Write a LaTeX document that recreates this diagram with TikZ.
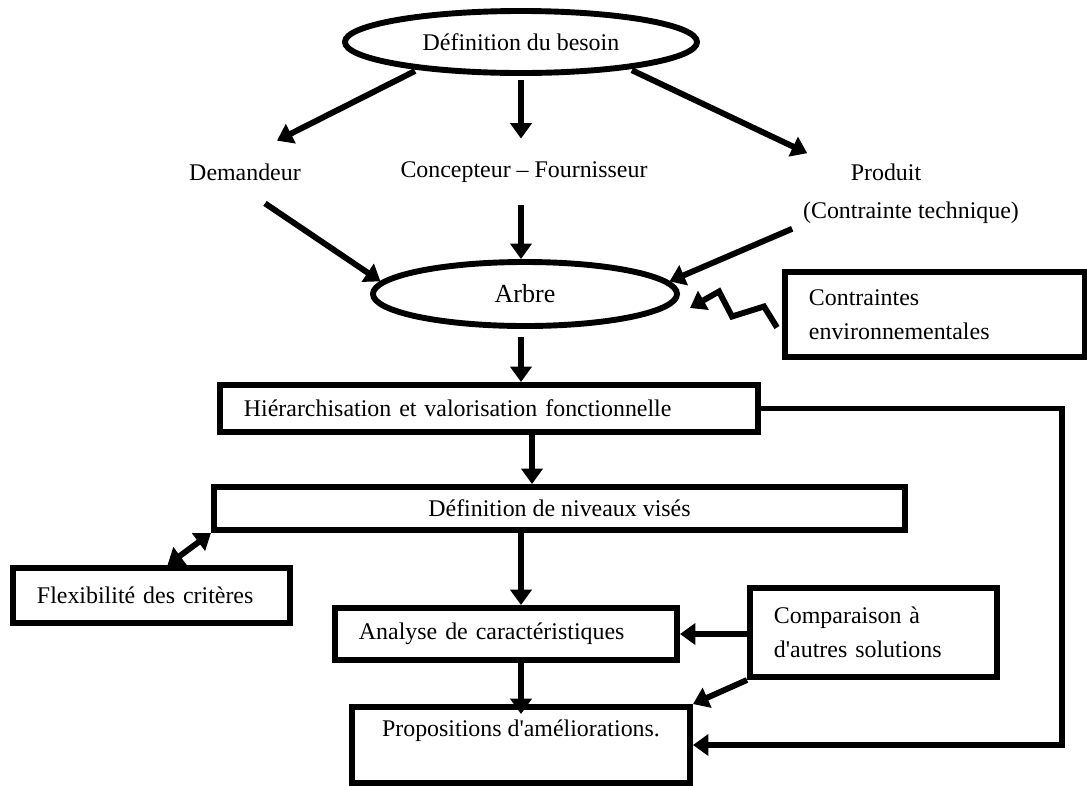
\documentclass[tikz,border=0pt]{standalone}
\usepackage{fontspec}
\setmainfont{Liberation Serif}[Ligatures=TeXOff]
\usetikzlibrary{shapes.geometric,arrows.meta}

\begin{document}
\begin{tikzpicture}[x=0.025cm, y=-0.025cm, line width=4.2pt, >={Triangle[length=11pt,width=15pt]},
    font=\fontsize{17}{24}\selectfont,
    block/.style={rectangle, draw, inner ysep=0pt},
    lblock/.style={block, align=left, inner xsep=0.6cm},
    oval/.style={ellipse, draw, inner sep=0pt},
    txt/.style={inner xsep=0pt, inner ysep=0.5cm, align=center}]

    \useasboundingbox (0,0) rectangle (1087,785);

    \node[oval, minimum width=8.8cm, minimum height=1.55cm] (besoin) at (521,42) {Définition du besoin};

    \node[txt] (demandeur) at (245,172) {Demandeur};
    \node[txt] (concepteur) at (524,172) {Concepteur – Fournisseur};
    \node[txt] (produit) at (911,194) {Produit\hspace*{1.25cm}\\[3pt](Contrainte technique)};

    \node[oval, minimum width=7.6cm, minimum height=1.6cm, font=\fontsize{18.5}{22}\selectfont] (arbre) at (525,294) {Arbre};
    \node[lblock, text width=6.3cm, minimum height=2.125cm] (contr) at (935,314.5) {Contraintes\\environnementales};

    \node[lblock, text width=12.25cm, minimum height=1.175cm] (hier) at (489,408.5) {Hiérarchisation et valorisation fonctionnelle};
    \node[block, minimum width=17.275cm, minimum height=1.075cm] (def) at (559.5,508.5) {Définition de niveaux visés};
    \node[lblock, text width=5.725cm, minimum height=1.375cm] (flex) at (151.5,595.5) {Flexibilité des critères};
    \node[lblock, text width=7.35cm, minimum height=1.3cm] (analyse) at (506,634) {Analyse de caractéristiques};
    \node[lblock, text width=4.975cm, minimum height=2.225cm] (comp) at (873.5,632.5) {Comparaison à\\d'autres solutions};
    \node[block, minimum width=8.45cm, minimum height=1.9cm, align=center] (prop) at (521,745) {Propositions d'améliorations.\\ \mbox{}};

    \coordinate (fbk) at (1062,745);

    \draw[->, shorten <=2pt] (besoin.195) -- ([xshift=0.8cm]demandeur.north);
    \draw[->, shorten <=0.1cm] (besoin.south) -- (besoin.south |- concepteur.north);
    \draw[->, shorten <=2pt] (besoin.346) -- ([shift={(7,12)}]produit.north west);

    \draw[->] ([xshift=0.5cm]demandeur.south) -- (arbre.175);
    \draw[->] (besoin.south |- concepteur.south) -- (besoin.south |- arbre.north);
    \draw[->] ([shift={(-8,-18)}]produit.south west) -- (arbre.5);
    \draw[->] ([shift={(-5,13)}]contr.west) -- ++(-13,-21) -- ++(-32,10) -- ++(-13,-25) -- ([shift={(10,14)}]arbre.east);

    \draw[->, shorten <=0.2cm] (besoin.south |- arbre.south) -- (besoin.south |- hier.north);
    \draw[->] ([xshift=0.275cm]besoin.south |- hier.south) -- ([xshift=0.275cm]besoin.south |- def.north);
    \draw[<->] (def.south west) -- ([xshift=0.4cm]flex.north);
    \draw[->] (besoin.south |- def.south) -- (besoin.south |- analyse.north);
    \draw[->, shorten >=-0.25cm] (besoin.south |- analyse.south) -- (besoin.south |- prop.north);
    \draw[->] (comp.west |- analyse.east) -- (analyse.east);
    \draw[->] (comp.south west) -- (prop.north east);
    \draw[->] (hier.east) -| (fbk) -- (prop.east);

\end{tikzpicture}
\end{document}
